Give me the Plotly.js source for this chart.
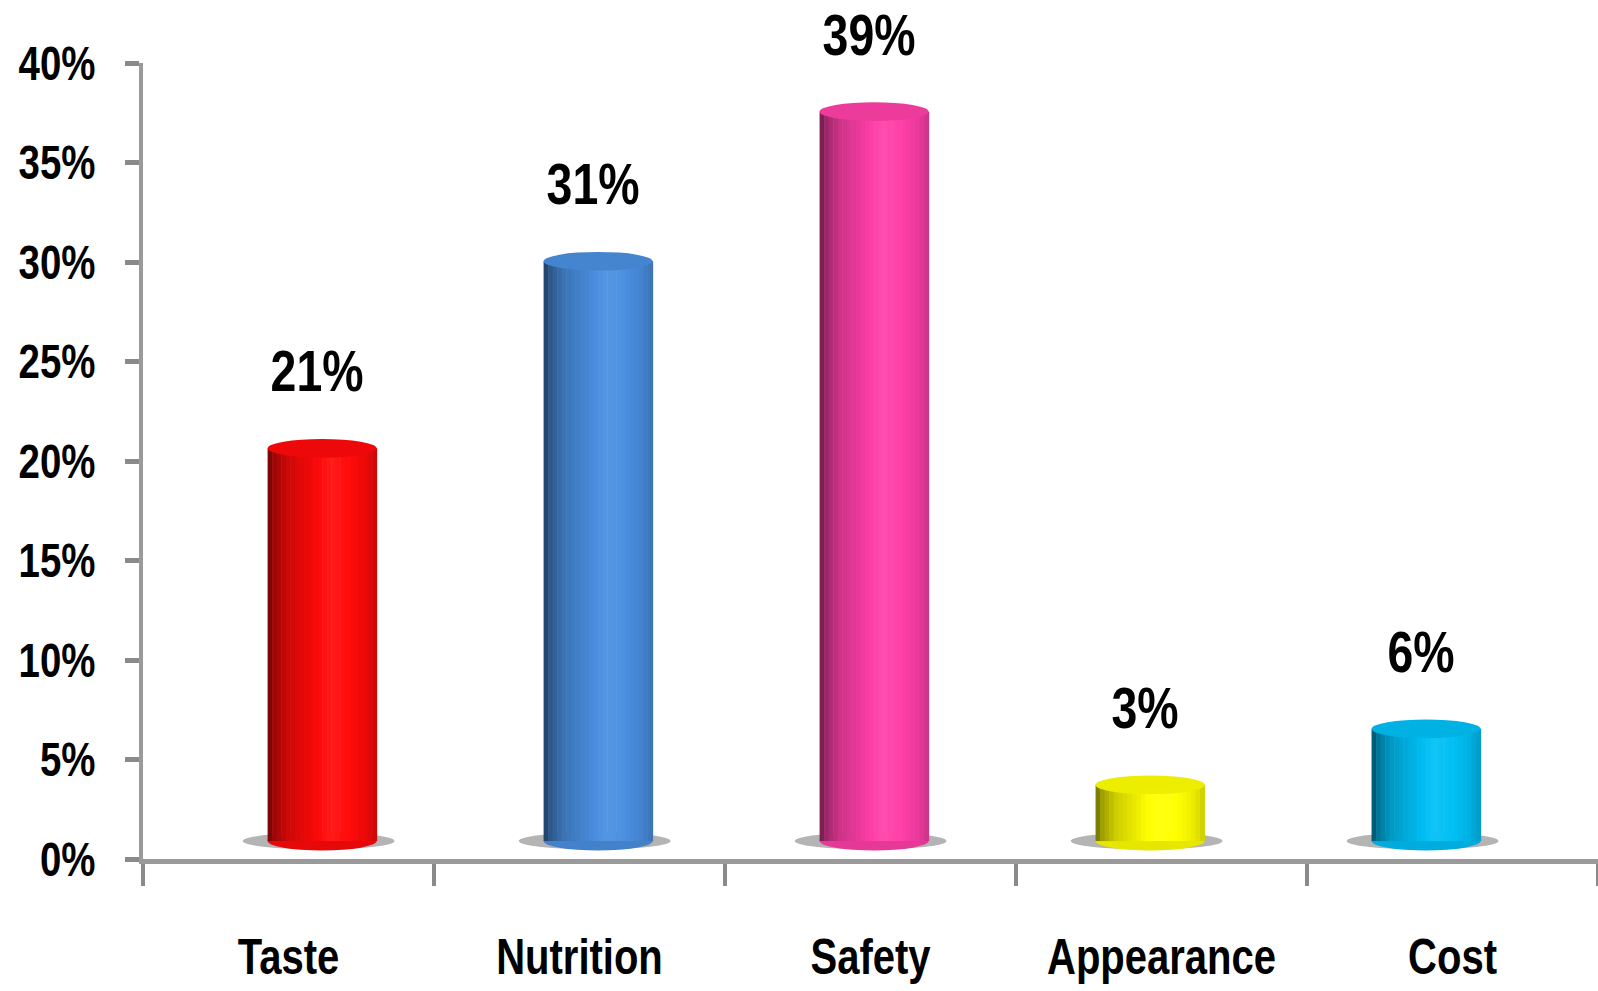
<!DOCTYPE html>
<html>
<head>
<meta charset="utf-8">
<script src="https://cdn.plot.ly/plotly-3.0.1.min.js"></script>
<style>
  html, body { margin: 0; padding: 0; background: #ffffff; }
  #chart { width: 1598px; height: 991px; }
</style>
</head>
<body>
<div id="chart"></div>
<script>
// ---- data ----
const categories = ['Taste', 'Nutrition', 'Safety', 'Appearance', 'Cost'];
const values = [0.21, 0.31, 0.39, 0.03, 0.06];
const valueLabels = ['21%', '31%', '39%', '3%', '6%'];
const yTickVals = [0, 0.05, 0.10, 0.15, 0.20, 0.25, 0.30, 0.35, 0.40];
const yTickText = ['0%', '5%', '10%', '15%', '20%', '25%', '30%', '35%', '40%'];
const barColors = ['#ff0a0a', '#4a8fe0', '#ff3fa8', '#ffff00', '#00bff5'];

// ---- styling helpers ----
const FONT = '"Liberation Sans", Arial, sans-serif';
const TEXT_SQUEEZE = 0.8;   // narrow the glyphs horizontally like the reference's condensed face
function hexToRgb(h) {
  h = h.replace('#', '');
  return [parseInt(h.slice(0, 2), 16), parseInt(h.slice(2, 4), 16), parseInt(h.slice(4, 6), 16)];
}
function shade(hex, f) {
  const c = hexToRgb(hex);
  let out;
  if (f <= 1) out = c.map(v => Math.round(v * f));
  else out = c.map(v => Math.round(v + (255 - v) * (f - 1)));
  return 'rgb(' + out.join(',') + ')';
}
// horizontal cylinder shading profile (t across bar width -> brightness factor)
const profT = [0, 0.06, 0.18, 0.40, 0.58, 0.75, 0.90, 1.0];
const profF = [0.42, 0.62, 0.80, 0.94, 1.07, 1.0, 0.92, 0.80];
function profile(t) {
  for (let i = 0; i < profT.length - 1; i++) {
    if (t >= profT[i] && t <= profT[i + 1]) {
      const u = (t - profT[i]) / (profT[i + 1] - profT[i]);
      return profF[i] + u * (profF[i + 1] - profF[i]);
    }
  }
  return 1;
}

const BAR_W = 0.395;
const N_STRIPES = 24;
const CAP_H = 0.005;

const traces = [];
// invisible trace to anchor the visible category axis
traces.push({
  type: 'scatter', x: categories, y: values, mode: 'markers',
  marker: { opacity: 0 }, hoverinfo: 'skip', showlegend: false,
  xaxis: 'x', yaxis: 'y'
});
for (let k = 0; k < N_STRIPES; k++) {
  const t = (k + 0.5) / N_STRIPES;
  const f = profile(t);
  traces.push({
    type: 'bar',
    x: categories,
    y: values,
    base: 0,
    xaxis: 'x2', yaxis: 'y2',
    offset: -BAR_W / 2 + k * BAR_W / N_STRIPES,
    width: BAR_W / N_STRIPES + 0.002,
    marker: { color: barColors.map(c => shade(c, f)), line: { width: 0 } },
    hoverinfo: 'skip', showlegend: false
  });
}

const shapes = [];
categories.forEach((c, i) => {
  // shadow
  shapes.push({
    type: 'circle', xref: 'x2', yref: 'y2', layer: 'below',
    x0: i - BAR_W / 2 - 0.09, x1: i + BAR_W / 2 + 0.065,
    y0: -0.0045, y1: 0.0045,
    fillcolor: '#b4b4b4', line: { width: 0 }
  });
  // bottom cap
  shapes.push({
    type: 'circle', xref: 'x2', yref: 'y2', layer: 'below',
    x0: i - BAR_W / 2, x1: i + BAR_W / 2,
    y0: -CAP_H, y1: CAP_H,
    fillcolor: shade(barColors[i], 0.9), line: { width: 0 }
  });
  // top cap
  shapes.push({
    type: 'circle', xref: 'x2', yref: 'y2', layer: 'above',
    x0: i - BAR_W / 2, x1: i + BAR_W / 2,
    y0: values[i] - CAP_H, y1: values[i] + CAP_H,
    fillcolor: shade(barColors[i], 0.93), line: { width: 0 }
  });
});

const annotations = categories.map((c, i) => ({
  xref: 'x2', yref: 'y2', x: i, y: values[i],
  text: valueLabels[i], showarrow: false,
  yanchor: 'bottom', xanchor: 'center', yshift: 43, xshift: -5,
  font: { family: FONT, size: 58, color: '#000000', weight: 'bold' }
}));

const layout = {
  width: 1598, height: 991,
  margin: { l: 143, r: 0, t: 63, b: 132 },
  paper_bgcolor: '#ffffff', plot_bgcolor: '#ffffff',
  barmode: 'overlay',
  showlegend: false,
  xaxis: {
    type: 'category', categoryorder: 'array', categoryarray: categories,
    range: [-0.5, 4.5], tickangle: 0,
    showline: true, linecolor: '#9a9a9a', linewidth: 5,
    ticks: 'outside', tickson: 'boundaries', ticklen: 22, tickwidth: 4, tickcolor: '#8a8a8a',
    ticklabelstandoff: 50,
    showgrid: false, zeroline: false,
    tickfont: { family: FONT, size: 50, color: '#000000', weight: 'bold' }
  },
  yaxis: {
    range: [0, 0.40],
    tickvals: yTickVals, ticktext: yTickText,
    showline: true, linecolor: '#9a9a9a', linewidth: 4,
    ticks: 'outside', ticklen: 14, tickwidth: 5, tickcolor: '#8a8a8a',
    ticklabelstandoff: 20,
    showgrid: false, zeroline: false,
    tickfont: { family: FONT, size: 48, color: '#000000', weight: 'bold' }
  },
  xaxis2: {
    type: 'category', categoryorder: 'array', categoryarray: categories,
    overlaying: 'x', range: [-0.649, 4.623], visible: false
  },
  yaxis2: {
    overlaying: 'y', range: [-0.0096, 0.416], visible: false
  },
  shapes: shapes,
  annotations: annotations
};

Plotly.newPlot('chart', traces, layout, { displayModeBar: false, staticPlot: true }).then(gd => {
  // squeeze texts horizontally about their anchor point
  function squeeze(sel, anchor) {
    gd.querySelectorAll(sel).forEach(el => {
      const bb = el.getBBox();
      const ax = anchor === 'end' ? bb.x + bb.width : bb.x + bb.width / 2;
      const prev = el.getAttribute('transform') || '';
      el.setAttribute('transform', prev + ' translate(' + ax + ',0) scale(' + TEXT_SQUEEZE + ',1) translate(' + (-ax) + ',0)');
    });
  }
  squeeze('.ytick text', 'end');
  squeeze('.xtick text', 'middle');
  squeeze('.annotation-text', 'middle');
});
</script>
</body>
</html>
